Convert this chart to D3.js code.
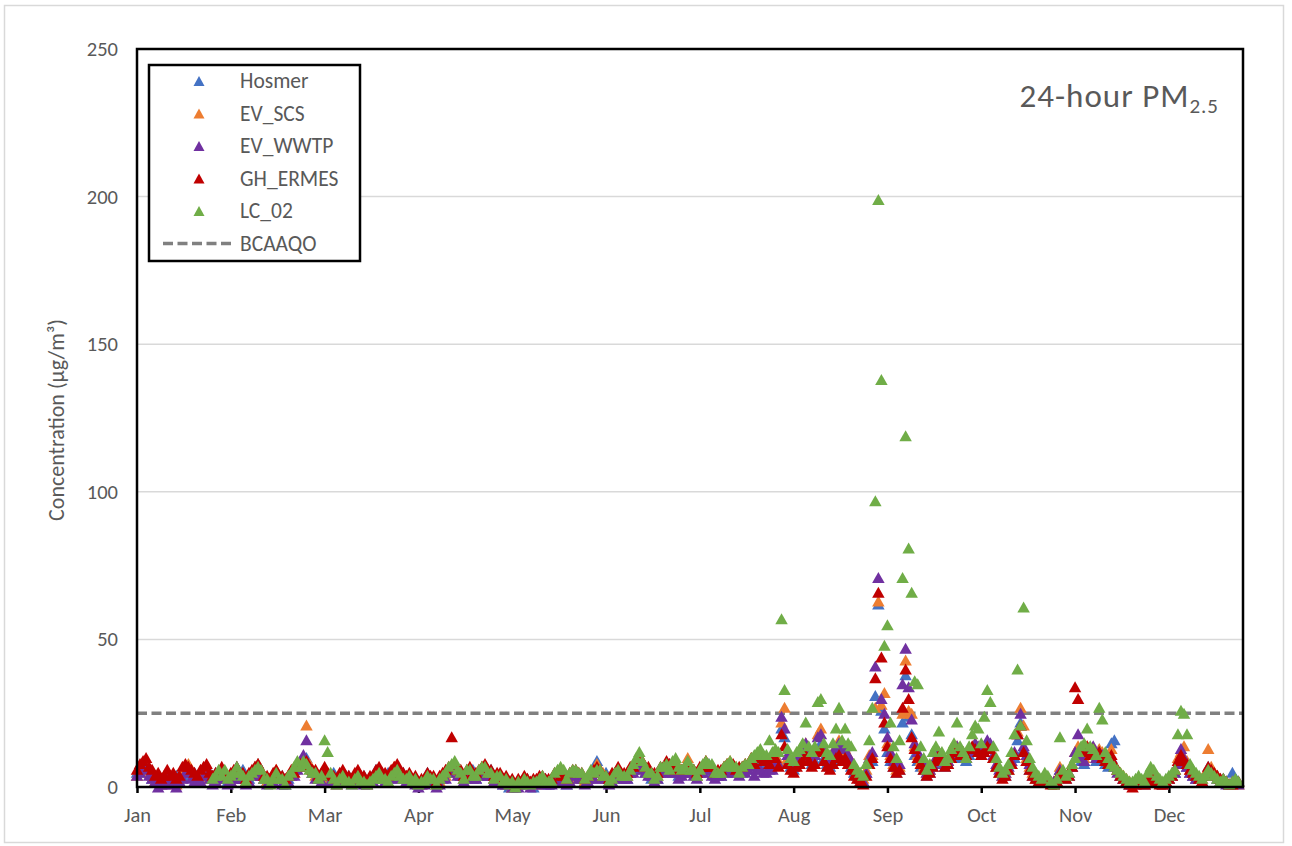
<!DOCTYPE html>
<html>
<head>
<meta charset="utf-8">
<script src="https://cdn.jsdelivr.net/npm/d3@7"></script>
<style>
  body { margin: 0; background: #fff; }
  svg { display: block; font-family: Carlito, Lato, "Open Sans", sans-serif; }
</style>
</head>
<body>
<svg id="chart" width="1292" height="846"></svg>
<script>
// ── DATA ──────────────────────────────────────────────────────────
const seriesNames  = ['Hosmer', 'EV_SCS', 'EV_WWTP', 'GH_ERMES', 'LC_02'];
const seriesColors = ['#4472C4', '#ED7D31', '#7030A0', '#C00000', '#70AD47'];
const yTicks = [0, 50, 100, 150, 200, 250];
const limitName = 'BCAAQO';
const limitValue = 25;

// daily 24-h PM2.5, one line per month (Jan..Dec)
const hosmer = [
  5,7,6,8,5,3,4,2,1,3,5,3,2,4,2,4,6,7,4,5,2,4,6,7,4,3,5,3,6,4,2,
  3,5,7,4,6,2,3,5,7,8,5,4,2,3,2,5,3,4,1,3,5,6,7,9,8,10,7,5,
  5,3,4,6,4,3,5,2,3,5,3,4,2,3,5,3,4,2,3,4,6,5,4,3,5,4,6,7,4,5,3,
  4,2,3,1,2,3,5,2,3,1,3,4,5,6,7,6,5,4,3,5,4,6,3,5,6,5,4,6,3,4,
  3,1,2,0,1,0,2,1,2,3,1,0,2,3,2,3,1,2,3,4,3,2,1,3,4,5,4,3,2,3,4,
  5,9,6,4,5,2,3,4,6,3,4,3,5,6,8,8,7,5,6,3,4,3,5,6,7,8,5,6,4,5,
  6,7,5,6,4,5,7,6,8,5,4,5,4,6,7,8,6,5,6,5,7,6,8,9,9,10,8,9,8,10,11,
  8,20,17,9,7,6,8,9,10,12,10,8,9,13,15,10,8,7,9,11,12,10,11,9,7,5,4,3,2,5,9,
  9,31,62,26,20,12,9,7,5,6,22,38,24,18,11,9,7,6,4,5,7,9,10,8,7,8,10,11,12,10,
  10,9,11,12,14,13,11,13,15,14,10,7,5,4,4,6,8,10,16,22,13,9,6,4,3,2,2,3,3,2,1,
  2,6,4,3,4,7,10,12,9,8,12,11,11,9,11,10,8,7,15,16,6,4,3,2,1,1,2,3,2,1,
  2,4,3,2,2,1,2,3,4,5,8,11,9,7,5,4,3,3,2,4,7,6,5,4,3,3,2,1,5,3,2
];
const evScs = [
  4,6,8,7,5,4,2,3,1,2,4,2,3,1,3,5,7,8,5,4,2,3,6,5,3,4,2,5,6,3,3,
  2,5,6,4,3,2,4,4,7,8,6,4,2,3,3,6,4,3,2,4,5,7,8,8,9,21,8,6,
  4,3,3,6,5,2,3,1,4,5,3,2,3,2,5,3,2,1,3,3,5,6,4,3,4,5,7,6,5,3,4,
  3,2,2,1,1,3,4,3,3,1,2,4,4,6,7,8,5,5,3,4,6,4,4,5,7,6,5,5,3,4,
  3,2,1,2,0,1,1,2,2,3,1,2,1,3,3,2,2,2,4,4,3,3,2,3,5,5,4,4,2,3,4,
  5,8,6,5,3,3,3,5,5,4,4,4,6,7,8,9,9,6,5,5,3,4,6,6,8,7,6,9,6,5,
  7,10,6,6,4,6,7,9,7,6,5,5,5,7,8,9,7,7,5,7,8,8,10,10,11,11,10,10,9,11,12,
  9,22,27,10,8,7,9,10,12,15,12,10,11,18,20,12,10,9,12,14,16,12,13,11,9,6,5,4,3,6,11,
  11,27,63,28,32,15,11,8,6,7,25,43,26,25,14,11,9,7,5,6,8,10,12,10,8,9,11,12,14,12,
  11,10,12,13,15,13,12,13,15,14,10,7,5,4,5,6,8,11,19,27,21,10,7,5,3,3,2,4,3,2,2,
  3,7,5,4,5,8,12,14,12,10,14,13,12,10,13,12,10,9,13,8,6,5,4,3,2,1,2,3,2,1,
  3,5,4,3,2,1,2,3,4,6,10,12,14,9,6,5,4,3,3,5,13,7,5,4,3,2,2,1,2,2,1
];
const evWwtp = [
  4,5,7,6,4,3,2,0,1,1,3,2,1,0,2,3,5,5,3,2,2,2,4,4,3,1,2,3,4,3,1,
  2,3,5,3,3,1,2,4,4,5,4,3,1,2,2,3,3,1,1,2,4,4,6,8,11,16,7,5,
  3,3,2,5,4,2,2,1,2,4,2,2,1,2,4,2,1,1,2,2,3,5,3,2,3,3,5,5,3,3,2,
  2,2,1,0,1,1,3,2,2,0,1,3,3,5,6,6,4,4,2,3,5,3,3,4,5,5,4,4,2,3,
  2,1,1,1,0,0,0,1,2,1,0,1,1,2,2,1,1,1,3,3,2,2,1,2,4,4,3,3,1,2,3,
  3,5,5,3,3,1,2,4,4,3,3,3,5,5,7,7,6,5,4,4,2,3,5,5,7,7,5,5,3,4,
  5,6,5,4,3,5,5,6,6,4,3,4,4,5,6,6,5,5,4,6,5,6,7,4,6,6,5,5,6,6,8,
  8,24,20,11,8,7,9,10,12,15,13,10,11,17,18,13,10,9,12,13,15,13,14,11,9,6,5,3,2,5,10,
  12,41,71,30,25,17,12,9,7,8,35,47,34,23,15,12,10,8,5,6,8,10,12,10,8,9,11,12,14,12,
  11,10,12,13,15,14,12,14,16,15,11,8,6,4,5,7,9,12,18,25,14,11,8,6,4,3,3,4,3,2,2,
  3,6,5,4,5,7,12,18,10,9,13,12,14,10,12,11,9,8,10,7,5,4,3,2,1,1,2,3,2,1,
  3,5,4,3,2,1,2,3,4,5,8,13,10,7,5,4,3,3,2,4,6,5,4,3,2,2,1,1,2,2,1
];
const ghErmes = [
  6,8,9,10,7,6,4,5,3,4,6,4,5,3,4,7,8,7,6,5,4,6,7,8,5,4,5,5,7,5,4,
  5,6,7,5,5,3,5,6,7,8,6,4,4,3,5,6,4,4,3,4,6,5,7,8,8,9,7,6,
  6,4,5,7,5,4,4,3,5,6,4,4,3,5,6,4,4,2,4,4,6,7,5,5,4,6,7,8,5,5,4,
  5,3,4,2,3,3,5,4,4,2,4,5,6,7,17,8,6,6,4,6,7,5,5,6,7,8,6,6,4,5,
  5,3,4,2,3,1,3,2,4,3,2,3,3,4,4,3,3,3,5,5,4,4,3,5,6,6,5,5,3,4,5,
  6,7,6,4,4,3,5,5,7,5,5,5,7,7,9,9,9,7,7,5,5,5,7,7,9,8,8,6,6,6,
  7,8,6,6,5,7,7,9,7,7,5,6,6,7,8,8,8,6,7,7,8,8,10,8,10,10,9,9,8,10,10,
  7,18,14,8,6,5,7,8,9,11,9,7,8,12,13,9,7,6,8,10,11,9,10,8,6,4,3,2,1,4,8,
  10,37,66,44,22,14,10,7,5,6,27,40,30,17,13,10,8,6,4,5,7,9,11,9,7,8,10,12,13,11,
  12,11,13,14,13,12,11,12,14,13,10,7,5,3,4,6,8,11,18,21,12,9,6,4,3,2,2,3,2,1,1,
  2,5,4,3,4,7,34,30,13,12,14,11,13,11,12,10,9,8,11,8,6,4,3,2,1,0,1,2,2,1,
  2,4,3,2,1,1,2,3,4,6,9,11,9,8,6,5,4,3,2,4,7,6,5,4,3,3,2,1,1,2,2
];
const lc02 = [
  null,null,null,null,null,null,null,null,null,null,null,null,null,null,null,null,null,null,null,null,null,null,null,null,null,3,4,6,4,6,3,
  4,5,7,5,4,2,4,5,6,7,6,3,3,1,3,5,3,3,1,4,5,7,9,7,9,8,6,5,
  5,3,4,16,12,5,3,1,3,4,2,2,1,3,4,2,2,1,2,3,4,5,3,3,2,4,5,6,4,3,3,
  4,2,3,1,2,2,4,3,3,1,3,4,5,7,8,9,6,5,3,6,6,4,4,6,7,7,5,5,3,4,
  4,2,3,1,2,0,2,1,3,2,1,2,2,3,4,2,2,2,5,6,7,6,3,5,6,6,5,5,3,4,6,
  5,6,6,4,4,2,3,5,6,4,4,4,6,8,10,12,9,7,5,5,3,4,7,7,8,6,9,10,7,6,
  7,9,6,6,4,6,8,9,8,8,5,5,5,7,8,9,7,7,5,7,8,8,10,11,12,13,11,11,16,12,13,
  12,57,33,13,10,9,12,13,15,22,14,12,14,29,30,15,12,11,15,20,27,16,20,15,14,8,6,5,4,8,16,
  27,97,199,138,48,55,22,14,10,16,71,119,81,66,36,35,14,10,6,8,12,14,19,12,9,10,13,15,22,14,
  12,10,14,18,21,20,15,24,33,29,14,10,7,5,6,8,12,18,40,21,61,16,10,7,5,4,3,5,4,2,1,
  3,17,6,4,5,8,10,12,14,15,20,14,13,11,27,23,12,10,8,7,6,5,4,3,2,2,3,4,3,2,
  5,7,6,4,3,2,3,4,5,6,18,26,25,18,8,6,5,4,3,4,6,5,4,3,2,3,2,1,2,3,2
];
const seriesValues = [hosmer, evScs, evWwtp, ghErmes, lc02];

// ── LAYOUT ────────────────────────────────────────────────────────
const plot = { left: 137, right: 1243, top: 49, bottom: 787 };
const textColor = '#595959';
const fontStack = 'Carlito, Lato, sans-serif';

const svg = d3.select('#chart');

// outer chart border
svg.append('rect')
  .attr('x', 4.5).attr('y', 5.5)
  .attr('width', 1279).attr('height', 837)
  .attr('fill', '#fff')
  .attr('stroke', '#d9d9d9').attr('stroke-width', 1.5);

const start = new Date(Date.UTC(2019, 0, 1));
const x = d3.scaleUtc()
  .domain([start, d3.utcHour.offset(start, 365.5 * 24)])
  .range([plot.left, plot.right]);
const y = d3.scaleLinear()
  .domain([0, 250])
  .range([plot.bottom, plot.top]);

// gridlines
svg.append('g')
  .selectAll('line')
  .data(yTicks.filter(v => v > 0 && v < 250))
  .enter().append('line')
    .attr('x1', plot.left).attr('x2', plot.right)
    .attr('y1', d => y(d)).attr('y2', d => y(d))
    .attr('stroke', '#d9d9d9').attr('stroke-width', 1.5);

// y axis
const yAxis = svg.append('g')
  .attr('transform', `translate(${plot.left},0)`)
  .call(d3.axisLeft(y).tickValues(yTicks).tickSize(0).tickPadding(19));
yAxis.select('.domain').remove();
yAxis.selectAll('text')
  .attr('fill', textColor)
  .attr('font-size', 20.5)
  .attr('font-family', fontStack);

// x axis, tick every 31 days like the Excel date axis
const xTicks = d3.range(12).map(k => d3.utcDay.offset(start, 31 * k));
const xAxis = svg.append('g')
  .attr('transform', `translate(0,${plot.bottom})`)
  .call(d3.axisBottom(x).tickValues(xTicks).tickFormat(d3.utcFormat('%b'))
    .tickSize(6).tickPadding(14));
xAxis.select('.domain').remove();
xAxis.selectAll('line').attr('stroke', '#000').attr('stroke-width', 2.5);
xAxis.selectAll('text')
  .attr('fill', textColor)
  .attr('font-size', 20.5)
  .attr('font-family', fontStack);

// y axis title
svg.append('text')
  .attr('transform', `translate(64,${(plot.top + plot.bottom) / 2 + 2}) rotate(-90)`)
  .attr('text-anchor', 'middle')
  .attr('fill', textColor)
  .attr('font-size', 22)
  .text('Concentration (μg/m³)');

// BCAAQO limit
svg.append('line')
  .attr('x1', plot.left).attr('x2', plot.right)
  .attr('y1', y(limitValue)).attr('y2', y(limitValue))
  .attr('stroke', '#808080').attr('stroke-width', 3.5)
  .attr('stroke-dasharray', '10,4.5');

// triangle marker, centred on its box
const tri = (w, h) => `M0,${-h / 2}L${w / 2},${h / 2}L${-w / 2},${h / 2}Z`;

seriesValues.forEach((vals, si) => {
  const pts = vals
    .map((v, i) => ({ date: d3.utcDay.offset(start, i), v }))
    .filter(d => d.v !== null);
  svg.append('g')
    .selectAll('path')
    .data(pts)
    .enter().append('path')
      .attr('d', tri(12.5, 11))
      .attr('transform', d => `translate(${x(d.date)},${y(d.v)})`)
      .attr('fill', seriesColors[si]);
});

// plot frame
svg.append('rect')
  .attr('x', plot.left).attr('y', plot.top)
  .attr('width', plot.right - plot.left).attr('height', plot.bottom - plot.top)
  .attr('fill', 'none')
  .attr('stroke', '#000').attr('stroke-width', 2.5);

// legend
const leg = svg.append('g');
leg.append('rect')
  .attr('x', 149).attr('y', 65)
  .attr('width', 211).attr('height', 196)
  .attr('fill', '#fff')
  .attr('stroke', '#000').attr('stroke-width', 2.5);

const legRows = seriesNames.concat([limitName]);
legRows.forEach((name, i) => {
  const cy = 81 + i * 32.5;
  if (i < seriesNames.length) {
    leg.append('path')
      .attr('d', tri(11, 10))
      .attr('transform', `translate(199,${cy})`)
      .attr('fill', seriesColors[i]);
  } else {
    leg.append('line')
      .attr('x1', 163).attr('x2', 234)
      .attr('y1', cy).attr('y2', cy)
      .attr('stroke', '#808080').attr('stroke-width', 3.5)
      .attr('stroke-dasharray', '10,4.5');
  }
  leg.append('text')
    .attr('x', 240).attr('y', cy + 7)
    .attr('fill', textColor)
    .attr('font-size', 21.5)
    .text(name);
});

// panel title
const title = svg.append('text')
  .attr('x', 1219).attr('y', 107)
  .attr('text-anchor', 'end')
  .attr('fill', textColor)
  .attr('font-size', 33)
  .attr('letter-spacing', 1);
title.append('tspan').text('24-hour PM');
title.append('tspan').attr('font-size', 21).attr('dy', 6).text('2.5');
</script>
</body>
</html>
